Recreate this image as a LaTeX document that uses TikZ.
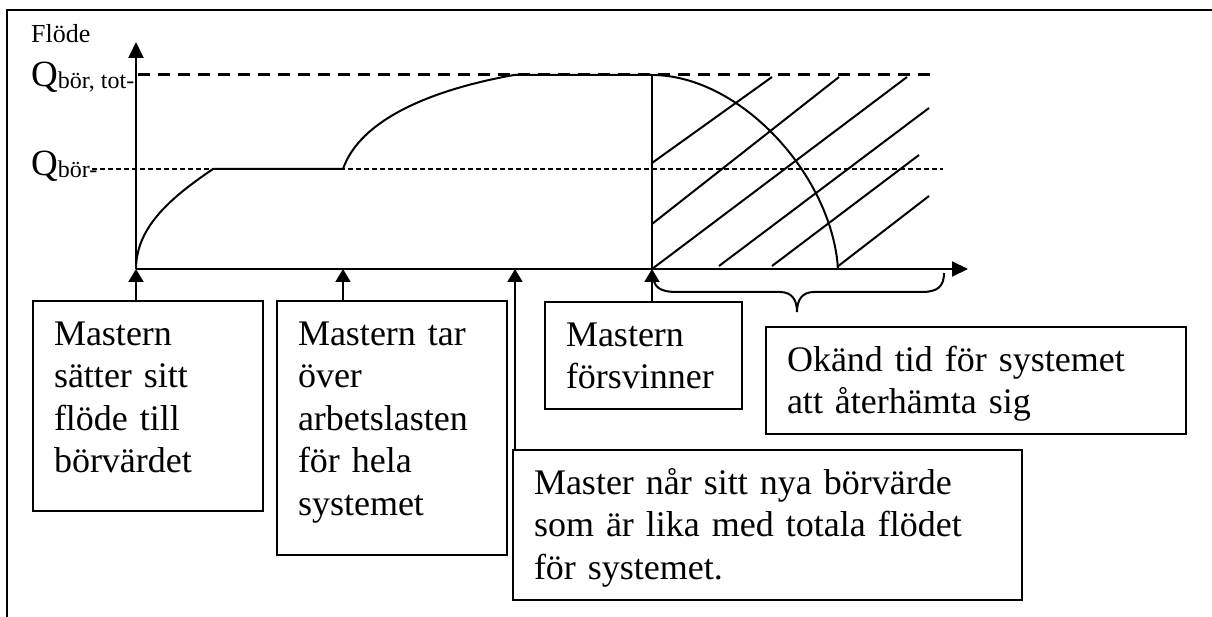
\documentclass[tikz,border=0pt]{standalone}
\usepackage{fontspec}
\setmainfont{Liberation Serif}
\usetikzlibrary{arrows.meta}

\tikzset{
  ruta/.style={draw, line width=2pt, anchor=north west, inner xsep=21pt, inner ysep=0pt,
    text height=44pt, align=left, font=\fontsize{36}{42.5}\selectfont},
  pil/.style={line width=2pt, -{Triangle[length=13pt,width=15pt]}},
  axel/.style={line width=2pt, -{Triangle[length=16pt,width=15pt]}}
}

\begin{document}
\begin{tikzpicture}[x=1pt,y=-1pt]
\useasboundingbox (0,0) rectangle (1212,617);
% ram
\draw [line width=2.5pt] (7,617) -- (7,10) -- (1212,10);
% axlar
\coordinate (O) at (136,269);
\draw [axel] (O) -- (136,42);
\draw [axel] (O) -- (968,269);
% etiketter
\node [anchor=base west, inner sep=0pt] (flode) at (31,43) {\fontsize{26}{28}\selectfont Flöde};
\node [anchor=base west, inner sep=0pt] (qtot) at (31,87) {\fontsize{37}{37}\selectfont Q\raisebox{-2pt}{\fontsize{24}{24}\selectfont bör, tot-}};
\node [anchor=base west, inner sep=0pt] (qbor) at (31,176) {\fontsize{37}{37}\selectfont Q\raisebox{-2pt}{\fontsize{24}{24}\selectfont bör-}};
% nivalinjer
\draw [line width=3pt, dash pattern=on 12pt off 8pt] (138,75) -- (936,75);
\draw [line width=1.5pt, dash pattern=on 5pt off 3pt] (92,169) -- (943,169);
% flodet
\draw [line width=2pt] (O) .. controls (136,225) and (175,195) .. (213,169) -- (343,169)
  .. controls (360,120) and (430,90) .. (514,75) -- (652,75)
  .. controls (740,75) and (832,175) .. (838,269);
\draw [line width=2pt] (652,75) -- (652,269);
% skraffering
\foreach \xa/\ya/\xb/\yb in {652/163/772/77, 652/224/839/77, 652/269/907/77,
    719/266/929/108, 772/266/919/155, 837/267/929/196} {
    \draw [line width=2pt] (\xa,\ya) -- (\xb,\yb);
}
% klammer
\draw [line width=2pt] (653,273) .. controls (653,288) and (660,292) .. (678,292) -- (780,292)
  .. controls (792,292) and (797,300) .. (797,312)
  .. controls (797,300) and (802,292) .. (814,292) -- (922,292)
  .. controls (938,292) and (944,286) .. (944,273);
% rutor
\node [ruta, text width=188pt, text depth=166pt] (satter) at (32,300) {Mastern\\ sätter sitt\\ flöde till\\ börvärdet};
\node [ruta, text width=188pt, text depth=210pt] (tarover) at (276,300) {Mastern tar\\ över\\ arbetslasten\\ för hela\\ systemet};
\node [ruta, text width=467pt, text depth=106pt] (nar) at (512,449) {Master når sitt nya börvärde\\ som är lika med totala flödet\\ för systemet.};
\node [ruta, text width=155pt, text depth=63pt] (forsvinner) at (544,301) {Mastern\\ försvinner};
\node [ruta, text width=378pt, text depth=63pt] (okand) at (765,326) {Okänd tid för systemet\\ att återhämta sig};
% pilar
\coordinate (t2) at (343,269);
\coordinate (t3) at (515,269);
\coordinate (t4) at (652,269);
\draw [pil] (satter.north -| O) -- (O);
\draw [pil] (tarover.north -| t2) -- (t2);
\draw [pil] (nar.north -| t3) -- (t3);
\draw [pil] (forsvinner.north -| t4) -- (t4);
\end{tikzpicture}
\end{document}
